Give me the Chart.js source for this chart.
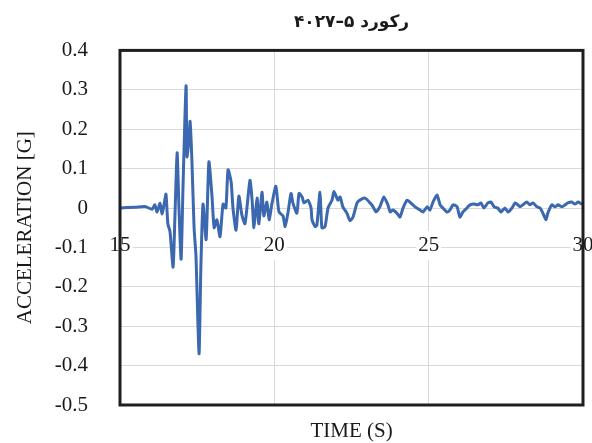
<!DOCTYPE html>
<html>
<head>
<meta charset="utf-8">
<script src="https://cdn.jsdelivr.net/npm/chart.js@4"></script>
<style>
  html, body { margin: 0; padding: 0; background: #fff; }
</style>
</head>
<body>
<canvas id="myChart" width="592" height="443"></canvas>
<script>
const times = [
  15.00, 15.49, 15.81, 16.04, 16.13, 16.20, 16.30, 16.36, 16.43, 16.49,
  16.55, 16.62, 16.72, 16.78, 16.85, 16.91, 16.98, 17.04, 17.14, 17.17,
  17.24, 17.27, 17.33, 17.40, 17.46, 17.56, 17.62, 17.69, 17.79, 17.88,
  17.98, 18.05, 18.14, 18.24, 18.34, 18.43, 18.50, 18.60, 18.66, 18.76,
  18.85, 18.95, 19.05, 19.21, 19.28, 19.34, 19.44, 19.50, 19.60, 19.66,
  19.76, 19.83, 19.92, 20.05, 20.15, 20.28, 20.35, 20.44, 20.54, 20.60,
  20.73, 20.80, 20.90, 20.96, 21.09, 21.19, 21.22, 21.32, 21.38, 21.48,
  21.54, 21.64, 21.74, 21.87, 21.93, 22.06, 22.13, 22.22, 22.35, 22.45,
  22.55, 22.68, 22.77, 22.94, 23.10, 23.20, 23.29, 23.42, 23.55, 23.68,
  23.75, 23.84, 23.97, 24.07, 24.17, 24.30, 24.39, 24.56, 24.72, 24.82,
  24.95, 25.04, 25.14, 25.27, 25.37, 25.46, 25.59, 25.69, 25.79, 25.92,
  26.01, 26.11, 26.24, 26.34, 26.47, 26.60, 26.69, 26.79, 26.92, 27.02,
  27.12, 27.24, 27.34, 27.47, 27.57, 27.70, 27.80, 27.89, 27.96, 28.05,
  28.18, 28.28, 28.38, 28.51, 28.61, 28.70, 28.80, 28.86, 28.99, 29.09,
  29.19, 29.32, 29.42, 29.51, 29.64, 29.74, 29.84, 29.97, 30.00
];
const accel = [
  0.000, 0.002, 0.004, -0.003, 0.008, -0.010, 0.012, -0.015, 0.010, 0.035,
  -0.040, -0.060, -0.150, -0.020, 0.140, 0.000, -0.130, 0.050, 0.310, 0.130,
  0.180, 0.220, 0.120, -0.050, -0.120, -0.370, -0.150, 0.010, -0.080, 0.117,
  0.030, -0.050, -0.030, -0.073, 0.010, 0.000, 0.097, 0.066, 0.000, -0.056,
  0.030, -0.018, -0.040, 0.070, 0.020, -0.050, 0.025, -0.040, 0.040, -0.020,
  0.015, -0.030, 0.010, 0.055, -0.010, -0.020, -0.047, -0.013, 0.037, 0.013,
  -0.013, 0.037, 0.028, 0.013, 0.020, 0.000, -0.030, -0.047, -0.043, 0.040,
  -0.050, -0.048, 0.000, 0.020, 0.042, 0.020, 0.028, 0.003, -0.013, -0.032,
  -0.023, 0.013, 0.020, 0.025, 0.013, 0.003, -0.010, 0.003, 0.028, 0.008,
  -0.010, -0.005, -0.013, -0.023, 0.000, 0.020, 0.015, 0.003, -0.005, -0.010,
  0.003, -0.005, 0.015, 0.033, 0.008, 0.000, -0.010, -0.005, 0.008, 0.003,
  -0.023, -0.010, 0.000, 0.008, 0.010, 0.008, 0.013, 0.000, 0.013, 0.015,
  0.003, 0.000, -0.010, 0.000, -0.010, 0.000, 0.013, 0.008, 0.003, 0.008,
  0.015, 0.008, 0.013, 0.003, 0.000, -0.013, -0.030, -0.013, 0.008, 0.003,
  0.008, 0.003, 0.008, 0.013, 0.015, 0.010, 0.015, 0.010, 0.012
];
const xTicks = [15, 20, 25, 30];
const yTicks = [-0.5, -0.4, -0.3, -0.2, -0.1, 0, 0.1, 0.2, 0.3, 0.4];

const serif = "'Liberation Serif', 'Times New Roman', serif";

// black frame around the plot area
const framePlugin = {
  id: 'frame',
  afterDraw(chart) {
    const {ctx, chartArea: a} = chart;
    ctx.save();
    ctx.strokeStyle = '#1e1e1e';
    ctx.lineWidth = 3;
    ctx.strokeRect(a.left, a.top, a.right - a.left, a.bottom - a.top);
    ctx.restore();
  }
};

const noPad = s => {
  s.paddingLeft = 0; s.paddingRight = 0; s.paddingTop = 0; s.paddingBottom = 0;
};

const ctx = document.getElementById('myChart').getContext('2d');

new Chart(ctx, {
  type: 'line',
  data: {
    datasets: [{
      data: times.map((t, i) => ({x: t, y: accel[i]})),
      borderColor: '#3b68ae',
      borderWidth: 3,
      pointRadius: 0,
      tension: 0.2,
      fill: false
    }]
  },
  options: {
    responsive: false,
    animation: false,
    devicePixelRatio: 1,
    layout: {padding: {left: 0, right: 9, top: 0, bottom: 0}},
    plugins: {
      legend: {display: false},
      tooltip: {enabled: false},
      title: {
        display: true,
        text: 'رکورد ۵–۴۰۲۷',
        fullSize: false,
        color: '#1a1a1a',
        font: {family: "'DejaVu Sans', sans-serif", size: 17, weight: 'bold'},
        padding: {top: 12, bottom: 18}
      },
      subtitle: {
        display: true,
        position: 'bottom',
        text: 'TIME (S)',
        fullSize: false,
        color: '#1a1a1a',
        font: {family: serif, size: 21, lineHeight: 1},
        padding: {top: 16, bottom: 1}
      }
    },
    scales: {
      x: {
        type: 'linear',
        position: {y: 0},
        min: 15,
        max: 30,
        afterBuildTicks: s => { s.ticks = xTicks.map(v => ({value: v})); },
        afterFit: noPad,
        grid: {color: '#d9d9d9', lineWidth: 1, drawTicks: false},
        border: {display: false},
        ticks: {
          color: '#1a1a1a',
          font: {family: serif, size: 21},
          padding: 25,
          maxRotation: 0,
          autoSkip: false,
          showLabelBackdrop: true,
          backdropColor: '#ffffff',
          backdropPadding: 2,
          z: 1,
          callback: v => String(v)
        }
      },
      y: {
        min: -0.5,
        max: 0.4,
        afterBuildTicks: s => { s.ticks = yTicks.map(v => ({value: v})); },
        afterFit: s => { s.width = 120; noPad(s); },
        grid: {color: '#d9d9d9', lineWidth: 1, drawTicks: false},
        border: {display: false},
        ticks: {
          color: '#1a1a1a',
          font: {family: serif, size: 21},
          padding: 32,
          autoSkip: false,
          callback: v => String(+v.toFixed(1))
        },
        title: {
          display: true,
          text: 'ACCELERATION [G]',
          color: '#1a1a1a',
          font: {family: serif, size: 21},
          padding: {top: 13, bottom: 0}
        }
      }
    }
  },
  plugins: [framePlugin]
});
</script>
</body>
</html>
